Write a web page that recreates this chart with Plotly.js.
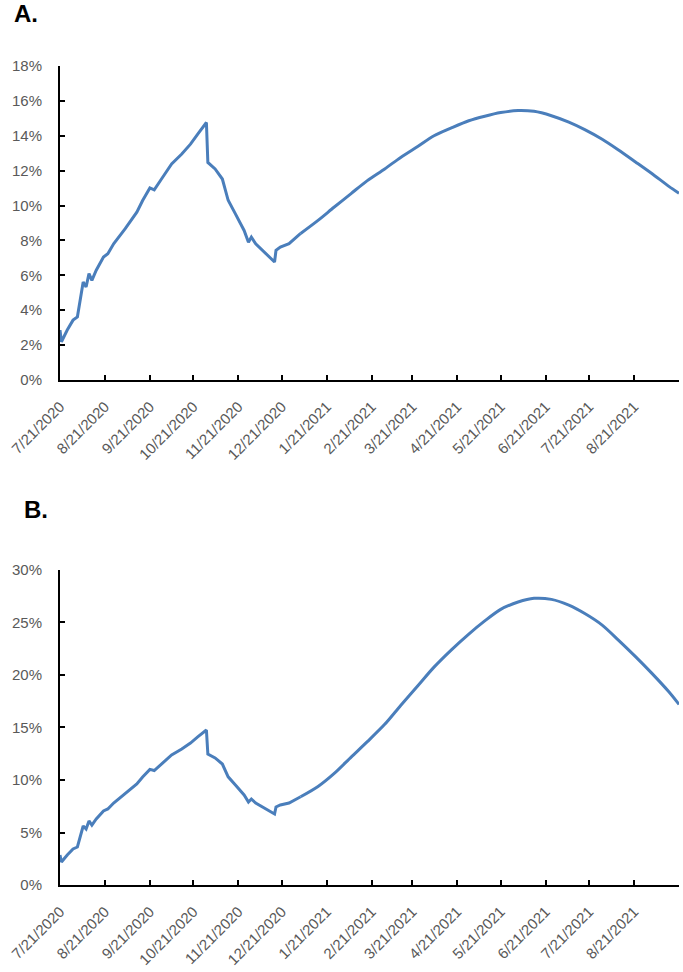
<!DOCTYPE html>
<html>
<head>
<meta charset="utf-8">
<script src="https://cdn.plot.ly/plotly-3.0.1.min.js"></script>
<style>
  html, body { margin: 0; padding: 0; background: #fff; }
  #chart { width: 683px; height: 972px; }
</style>
</head>
<body>
<div id="chart"></div>
<script>
// observed part, same in both panels (percent)
const obsDates = ['2020-07-21', '2020-07-22', '2020-07-26', '2020-07-30', '2020-08-02', '2020-08-04',
  '2020-08-06', '2020-08-08', '2020-08-10', '2020-08-12', '2020-08-15', '2020-08-20', '2020-08-23',
  '2020-08-27', '2020-09-04', '2020-09-12', '2020-09-16', '2020-09-21', '2020-09-24', '2020-09-29',
  '2020-10-06', '2020-10-13', '2020-10-19', '2020-10-24', '2020-10-30', '2020-10-31', '2020-11-05',
  '2020-11-10', '2020-11-11', '2020-11-14', '2020-11-19', '2020-11-25', '2020-11-28', '2020-11-30',
  '2020-12-03', '2020-12-10', '2020-12-16', '2020-12-17', '2020-12-20', '2020-12-26', '2021-01-03'];
const obsValues = [2.86, 2.19, 2.86, 3.43, 3.62, 4.6,
  5.62, 5.33, 6.1, 5.71, 6.29, 7.05, 7.24,
  7.81, 8.67, 9.62, 10.29, 11.01, 10.9, 11.52,
  12.38, 12.95, 13.52, 14.1, 14.76, 12.47, 12.1,
  11.52, 11.2, 10.3, 9.52, 8.57, 7.9, 8.19,
  7.81, 7.24, 6.76, 7.43, 7.62, 7.81, 8.4];

// projections
const projDates = ['2021-01-15', '2021-01-26', '2021-02-07', '2021-02-18', '2021-03-02', '2021-03-13',
  '2021-03-25', '2021-04-05', '2021-04-17', '2021-04-29', '2021-05-10', '2021-05-21', '2021-06-02',
  '2021-06-13', '2021-06-25', '2021-07-07', '2021-07-18', '2021-07-30', '2021-08-10', '2021-08-22',
  '2021-09-02', '2021-09-14', '2021-09-21'];
const projValuesA = [9.15, 9.9, 10.7, 11.43, 12.1, 12.76,
  13.4, 14.0, 14.45, 14.86, 15.12, 15.33, 15.45,
  15.4, 15.15, 14.78, 14.35, 13.8, 13.2, 12.5,
  11.85, 11.1, 10.7];
const projValuesB = [9.38, 10.6, 12.2, 13.65, 15.3, 17.1,
  19.0, 20.75, 22.4, 23.9, 25.15, 26.25, 26.95,
  27.3, 27.2, 26.65, 25.85, 24.75, 23.35, 21.75,
  20.2, 18.4, 17.2];

const tickDates = ['2020-07-21', '2020-08-21', '2020-09-21', '2020-10-21', '2020-11-21', '2020-12-21',
  '2021-01-21', '2021-02-21', '2021-03-21', '2021-04-21', '2021-05-21', '2021-06-21', '2021-07-21',
  '2021-08-21', '2021-09-21'];
const tickLabels = ['7/21/2020', '8/21/2020', '9/21/2020', '10/21/2020', '11/21/2020', '12/21/2020',
  '1/21/2021', '2/21/2021', '3/21/2021', '4/21/2021', '5/21/2021', '6/21/2021', '7/21/2021',
  '8/21/2021', ''];
const yTicksA = [0, 2, 4, 6, 8, 10, 12, 14, 16, 18];
const yTicksB = [0, 5, 10, 15, 20, 25, 30];

const lineColor = '#4a7ebb';
const lastDate = obsDates[obsDates.length - 1];
const lastValue = obsValues[obsValues.length - 1];

function lineTrace(xs, ys, xa, ya, shape) {
  return {
    x: xs, y: ys, xaxis: xa, yaxis: ya,
    mode: 'lines', type: 'scatter',
    line: {color: lineColor, width: 3, shape: shape, smoothing: 0.8},
    hoverinfo: 'skip', showlegend: false
  };
}

const traces = [
  lineTrace(obsDates, obsValues, 'x', 'y', 'linear'),
  lineTrace([lastDate].concat(projDates), [lastValue].concat(projValuesA), 'x', 'y', 'spline'),
  lineTrace(obsDates, obsValues, 'x2', 'y2', 'linear'),
  lineTrace([lastDate].concat(projDates), [lastValue].concat(projValuesB), 'x2', 'y2', 'spline')
];

const fontFamily = 'Liberation Sans, Arial, sans-serif';
const tickColor = '#595959';

function xAxis(anchor) {
  return {
    type: 'date', anchor: anchor,
    range: ['2020-07-21', '2021-09-21'],
    tickmode: 'array', tickvals: tickDates, ticktext: tickLabels,
    tickangle: -45, tickfont: {family: fontFamily, size: 15, color: tickColor},
    ticklabelstandoff: 10,
    ticks: 'inside', ticklen: 5, tickwidth: 2, tickcolor: '#000',
    showline: true, linecolor: '#000', linewidth: 2,
    showgrid: false, zeroline: false, fixedrange: true
  };
}

function yAxis(anchor, domain, maxVal, ticks) {
  return {
    anchor: anchor, domain: domain,
    range: [0, maxVal],
    tickmode: 'array', tickvals: ticks, ticktext: ticks.map(v => v + '%'),
    tickfont: {family: fontFamily, size: 15, color: tickColor},
    ticks: 'inside', ticklen: 5, tickwidth: 2, tickcolor: '#000',
    ticklabelstandoff: 13,
    showline: true, linecolor: '#000', linewidth: 2,
    showgrid: false, zeroline: false, fixedrange: true
  };
}

const layout = {
  width: 683, height: 972,
  margin: {l: 60, r: 4, t: 0, b: 0},
  paper_bgcolor: '#fff', plot_bgcolor: '#fff',
  xaxis: xAxis('y'),
  yaxis: yAxis('x', [0.6091, 0.9321], 18, yTicksA),
  xaxis2: xAxis('y2'),
  yaxis2: yAxis('x2', [0.0895, 0.4136], 30, yTicksB),
  annotations: [
    {text: '<b>A.</b>', xref: 'paper', yref: 'paper', x: -0.078, y: 0.9856,
      xanchor: 'left', yanchor: 'middle', showarrow: false,
      font: {family: fontFamily, size: 24, color: '#000'}},
    {text: '<b>B.</b>', xref: 'paper', yref: 'paper', x: -0.061, y: 0.4763,
      xanchor: 'left', yanchor: 'middle', showarrow: false,
      font: {family: fontFamily, size: 24, color: '#000'}}
  ]
};

Plotly.newPlot('chart', traces, layout, {displayModeBar: false, staticPlot: true});
</script>
</body>
</html>
